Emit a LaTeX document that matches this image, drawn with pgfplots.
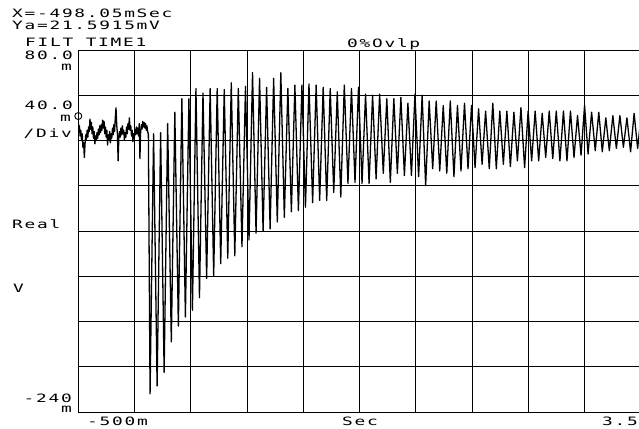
\documentclass[border=0pt]{standalone}
\usepackage{pgfplots}
\pgfplotsset{compat=1.18}
\usepackage{pgfplotstable}
\usepackage{fontspec}
\newfontfamily\plotter[FakeStretch=1.55,LetterSpace=15]{DejaVu Sans Mono}
\pgfplotstableread{
t v
-0.500 21.6
-0.495 10
-0.490 13
-0.485 4
-0.480 9
-0.475 0
-0.470 6
-0.465 -6
-0.460 -2
-0.455 -15
-0.450 -3
-0.445 5
-0.440 1
-0.435 9
-0.430 3
-0.425 12
-0.420 8
-0.415 19
-0.410 10
-0.405 16
-0.400 6
-0.395 12
-0.390 2
-0.385 8
-0.380 -3
-0.375 4
-0.370 0
-0.365 7
-0.360 2
-0.355 10
-0.350 5
-0.345 13
-0.340 7
-0.335 14
-0.330 9
-0.325 18
-0.320 11
-0.315 17
-0.310 6
-0.305 12
-0.300 3
-0.295 9
-0.290 -4
-0.285 5
-0.280 1
-0.275 8
-0.270 -2
-0.265 6
-0.260 2
-0.255 11
-0.250 5
-0.245 14
-0.240 8
-0.235 20
-0.230 29
-0.225 14
-0.220 6
-0.215 -18
-0.210 2
-0.205 8
-0.200 3
-0.195 11
-0.190 5
-0.185 13
-0.180 6
-0.175 9
-0.170 0
-0.165 7
-0.160 3
-0.155 12
-0.150 6
-0.145 15
-0.140 10
-0.135 20
-0.130 9
-0.125 13
-0.120 4
-0.115 9
-0.110 -1
-0.105 6
-0.100 2
-0.095 10
-0.090 5
-0.085 12
-0.080 6
-0.075 11
-0.070 4
-0.065 15
-0.060 -16
-0.055 8
-0.050 14
-0.045 10
-0.040 17
-0.035 12
-0.030 16
-0.025 11
-0.020 15
-0.015 9
-0.010 13
-0.005 8
0.000 5
0.012 -224
0.037 6
0.062 -217
0.087 7
0.112 -205
0.137 15
0.163 -178
0.188 25
0.213 -164
0.238 37
0.263 -156
0.288 37
0.313 -150
0.338 46
0.363 -139
0.388 42
0.414 -122
0.439 46
0.464 -120
0.489 46
0.514 -109
0.539 45
0.564 -104
0.589 51
0.614 -102
0.639 46
0.665 -94
0.690 48
0.715 -88
0.740 60
0.765 -82
0.790 55
0.815 -80
0.840 47
0.865 -78
0.890 55
0.916 -72
0.941 60
0.966 -68
0.991 46
1.016 -63
1.041 49
1.066 -62
1.091 49
1.116 -59
1.141 50
1.167 -55
1.192 49
1.217 -53
1.242 47
1.267 -53
1.292 46
1.317 -46
1.342 43
1.367 -50
1.392 49
1.418 -38
1.443 46
1.468 -37
1.493 47
1.518 -38
1.543 41
1.568 -38
1.593 40
1.618 -34
1.643 41
1.669 -29
1.694 37
1.719 -37
1.744 37
1.769 -29
1.794 38
1.819 -31
1.844 33
1.869 -31
1.894 41
1.920 -32
1.945 40
1.970 -40
1.995 35
2.020 -25
2.045 35
2.070 -27
2.095 31
2.120 -29
2.145 35
2.171 -32
2.196 31
2.221 -27
2.246 33
2.271 -25
2.296 31
2.321 -24
2.346 28
2.371 -21
2.396 26
2.422 -25
2.447 33
2.472 -25
2.497 26
2.522 -21
2.547 26
2.572 -23
2.597 25
2.622 -18
2.647 29
2.673 -24
2.698 26
2.723 -18
2.748 26
2.773 -18
2.798 24
2.823 -15
2.848 26
2.873 -16
2.898 26
2.924 -18
2.949 26
2.974 -18
2.999 26
3.024 -15
3.049 22
3.074 -13
3.099 31
3.124 -12
3.149 25
3.175 -9
3.200 25
3.225 -10
3.250 20
3.275 -9
3.300 22
3.325 -7
3.350 22
3.375 -6
3.400 20
3.426 -10
3.451 24
3.476 -7
3.501 22
}\trace
\begin{document}
\begin{tikzpicture}
\begin{axis}[
  at={(0pt,0pt)}, anchor=south west,
  width=563pt, height=362pt, scale only axis,
  xmin=-0.5, xmax=3.5, ymin=-240, ymax=80,
  xtick={-0.5,-0.1,0.3,0.7,1.1,1.5,1.9,2.3,2.7,3.1,3.5},
  ytick={-240,-200,-160,-120,-80,-40,0,40,80},
  xticklabels={}, yticklabels={},
  major tick length=0pt,
  grid=major,
  major grid style={black, line width=0.8pt},
  axis line style={black, line width=0.9pt},
]
\addplot[black, line width=1.3pt, line join=round] table[x=t, y=v] {\trace};
\addplot[only marks, mark=o, mark size=3.5pt, mark options={line width=0.9pt}] coordinates {(-0.498,21.5915)};
\end{axis}
\begin{scope}[every node/.style={inner sep=0pt, font=\plotter\fontsize{11.5}{13}\selectfont}]
\node[anchor=base west] at (-66pt,394pt) {X=-498.05mSec};
\node[anchor=base west] at (-66pt,382pt) {Ya=21.5915mV};
\node[anchor=base west] at (-53pt,365.5pt) {FILT TIME1};
\node[anchor=base west] at (269pt,364pt) {0\%Ovlp};
\node[anchor=base east] at (-5pt,352pt) {80.0};
\node[anchor=base east] at (-6pt,341pt) {m};
\node[anchor=base east] at (-5pt,302pt) {40.0};
\node[anchor=base east] at (-7pt,290pt) {m};
\node[anchor=base east] at (-6pt,274pt) {/Div};
\node[anchor=base west] at (-66pt,183pt) {Real};
\node[anchor=base west] at (-65pt,119pt) {V};
\node[anchor=base east] at (-6pt,10pt) {-240};
\node[anchor=base east] at (-6pt,0pt) {m};
\node[anchor=base west] at (9pt,-13pt) {-500m};
\node[anchor=base] at (282pt,-13pt) {Sec};
\node[anchor=base east] at (560pt,-13pt) {3.5};
\end{scope}
\pgfresetboundingbox
\path[use as bounding box] (-78pt,-16pt) rectangle (561pt,412pt);
\end{tikzpicture}
\end{document}
